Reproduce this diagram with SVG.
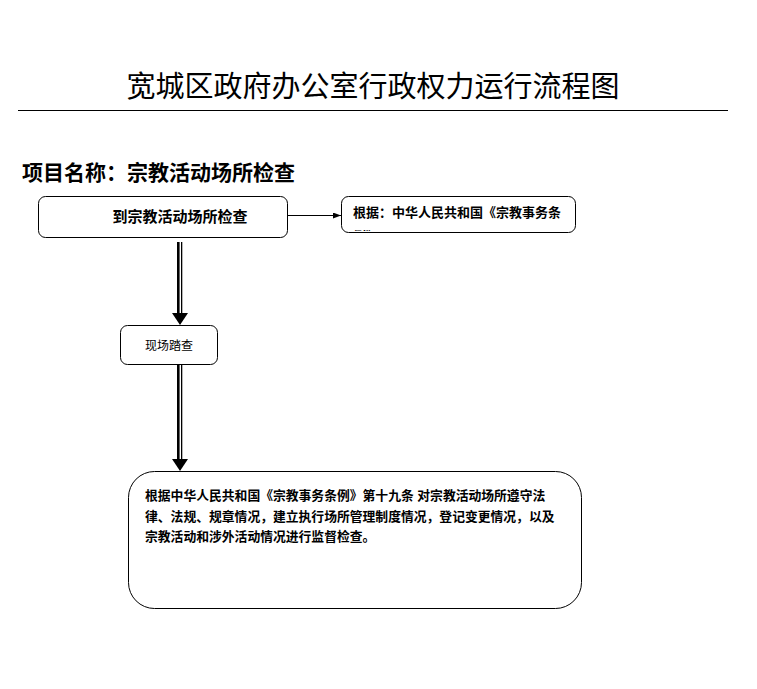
<svg xmlns="http://www.w3.org/2000/svg" width="757" height="689" viewBox="0 0 757 689">
<style>
.box{fill:#fff;stroke:#000;stroke-width:1}
.t{font-family:"Liberation Sans","Noto Sans CJK SC",sans-serif;fill:#000}
.b{font-weight:bold}
</style>
<defs>
<marker id="ah" markerWidth="8" markerHeight="6" refX="8" refY="3" orient="auto" markerUnits="userSpaceOnUse"><path d="M0,0 L8,3 L0,6 Z" fill="#000"/></marker>
<clipPath id="c2"><rect x="342" y="197" width="233" height="34"/></clipPath>
</defs>
<rect width="757" height="689" fill="#fff"/>
<text class="t" x="373" y="97" font-size="29" text-anchor="middle">宽城区政府办公室行政权力运行流程图</text>
<line x1="18" y1="110.5" x2="728" y2="110.5" stroke="#000" stroke-width="1"/>
<text class="t b" x="22" y="180" font-size="21">项目名称：宗教活动场所检查</text>
<g id="connectors">
<line x1="288" y1="215.5" x2="341" y2="215.5" stroke="#000" stroke-width="1" marker-end="url(#ah)"/>
<g>
<rect x="177" y="242" width="2.6" height="72" fill="#000"/>
<rect x="181" y="242" width="1.3" height="72" fill="#000"/>
<path d="M172,313 L188,313 L180,325 Z" fill="#000"/>
</g>
<g>
<rect x="177" y="365" width="2.6" height="95" fill="#000"/>
<rect x="181" y="365" width="1.3" height="95" fill="#000"/>
<path d="M172,459 L188,459 L180,471 Z" fill="#000"/>
</g>
</g>
<g id="node1">
<rect class="box" x="38.5" y="196.5" width="249" height="41" rx="7"/>
<text class="t b" x="180" y="222" font-size="15" text-anchor="middle">到宗教活动场所检查</text>
</g>
<g id="node2">
<rect class="box" x="341.5" y="196.5" width="234" height="36" rx="7"/>
<g clip-path="url(#c2)">
<text class="t b" x="353" y="217" font-size="13">根据：中华人民共和国《宗教事务条</text>
<text class="t b" x="353" y="241" font-size="13">例》</text>
</g>
</g>
<g id="node3">
<rect class="box" x="120.5" y="325.5" width="97" height="39" rx="7"/>
<text class="t" x="169" y="350" font-size="12" text-anchor="middle">现场踏查</text>
</g>
<g id="node4">
<rect class="box" x="128.5" y="471.5" width="453" height="137" rx="26"/>
<text class="t b" x="145" y="500" font-size="12.8">根据中华人民共和国《宗教事务条例》第十九条 对宗教活动场所遵守法</text>
<text class="t b" x="145" y="521" font-size="12.8">律、法规、规章情况，建立执行场所管理制度情况，登记变更情况，以及</text>
<text class="t b" x="145" y="541" font-size="12.8">宗教活动和涉外活动情况进行监督检查。</text>
</g>
</svg>
